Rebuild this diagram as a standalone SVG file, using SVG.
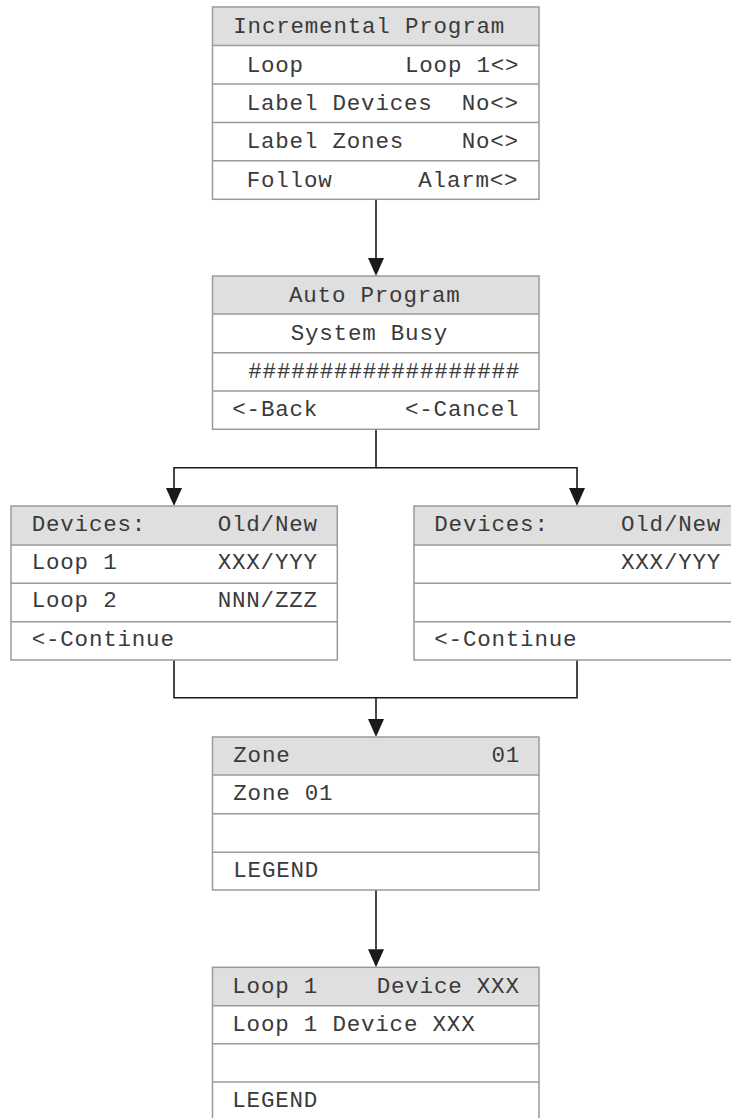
<svg xmlns="http://www.w3.org/2000/svg" width="731" height="1118" viewBox="0 0 731 1118">
<defs>
<style>
.hdr{fill:#dfdfdf;stroke:none}
.row{fill:#ffffff;stroke:none}
.frame{fill:none;stroke:#9a9a9a;stroke-width:1.5}
.div{stroke:#9a9a9a;stroke-width:1.5}
.t{font-family:"Liberation Mono","Courier New",monospace;font-size:22.5px;letter-spacing:0.8px;fill:#3a3a3a}
.c{fill:none;stroke:#1a1a1a;stroke-width:1.6}
.ah{fill:#1a1a1a;stroke:none}
</style>
</defs>
<rect width="731" height="1118" fill="#ffffff"/>

<g id="connectors">
<path class="c" d="M376,199.3 V258" />
<path class="ah" d="M368,258 L384,258 L376,276 Z"/>
<path class="c" d="M376,429.3 V467.7 H174 V488" />
<path class="c" d="M376,467.7 H577 V488" />
<path class="ah" d="M166,488 L182,488 L174,506 Z"/>
<path class="ah" d="M569,488 L585,488 L577,506 Z"/>
<path class="c" d="M174,660 V697.7 H577 V660" />
<path class="c" d="M376,697.7 V719" />
<path class="ah" d="M368,719 L384,719 L376,737 Z"/>
<path class="c" d="M376,890 V949.3" />
<path class="ah" d="M368,949.3 L384,949.3 L376,967.3 Z"/>
</g>

<g id="incremental-program">
<rect class="hdr" x="212.5" y="7" width="326.5" height="38.5"/>
<rect class="row" x="212.5" y="45.5" width="326.5" height="153.8"/>
<line class="div" x1="212.5" y1="45.5" x2="539" y2="45.5"/>
<line class="div" x1="212.5" y1="84" x2="539" y2="84"/>
<line class="div" x1="212.5" y1="122.4" x2="539" y2="122.4"/>
<line class="div" x1="212.5" y1="160.8" x2="539" y2="160.8"/>
<rect class="frame" x="212.5" y="7" width="326.5" height="192.3"/>
<text class="t" x="233.3" y="33.3">Incremental Program</text>
<text class="t" x="246.7" y="71.7">Loop</text>
<text class="t" x="405" y="71.7">Loop 1&lt;&gt;</text>
<text class="t" x="246.7" y="110">Label Devices</text>
<text class="t" x="461.7" y="110">No&lt;&gt;</text>
<text class="t" x="246.7" y="148.3">Label Zones</text>
<text class="t" x="461.7" y="148.3">No&lt;&gt;</text>
<text class="t" x="246.7" y="186.5">Follow</text>
<text class="t" x="418.3" y="186.5">Alarm&lt;&gt;</text>
</g>

<g id="auto-program">
<rect class="hdr" x="212.5" y="276" width="326.5" height="38"/>
<rect class="row" x="212.5" y="314" width="326.5" height="115.3"/>
<line class="div" x1="212.5" y1="314" x2="539" y2="314"/>
<line class="div" x1="212.5" y1="352.7" x2="539" y2="352.7"/>
<line class="div" x1="212.5" y1="391" x2="539" y2="391"/>
<rect class="frame" x="212.5" y="276" width="326.5" height="153.3"/>
<text class="t" x="289" y="301.5">Auto Program</text>
<text class="t" x="290.7" y="339.5">System Busy</text>
<text class="t" x="248.3" y="377.7">###################</text>
<text class="t" x="232.3" y="415.7">&lt;-Back</text>
<text class="t" x="405" y="415.7">&lt;-Cancel</text>
</g>

<g id="devices-left">
<rect class="hdr" x="11" y="506" width="326.3" height="39"/>
<rect class="row" x="11" y="545" width="326.3" height="115"/>
<line class="div" x1="11" y1="545" x2="337.3" y2="545"/>
<line class="div" x1="11" y1="583.3" x2="337.3" y2="583.3"/>
<line class="div" x1="11" y1="621.7" x2="337.3" y2="621.7"/>
<rect class="frame" x="11" y="506" width="326.3" height="154"/>
<text class="t" x="31.7" y="531">Devices:</text>
<text class="t" x="217.7" y="531">Old/New</text>
<text class="t" x="31.7" y="569.3">Loop 1</text>
<text class="t" x="217.7" y="569.3">XXX/YYY</text>
<text class="t" x="31.7" y="607.3">Loop 2</text>
<text class="t" x="217.7" y="607.3">NNN/ZZZ</text>
<text class="t" x="31.7" y="646">&lt;-Continue</text>
</g>

<g id="devices-right">
<rect class="hdr" x="414" y="506" width="326.3" height="39"/>
<rect class="row" x="414" y="545" width="326.3" height="115"/>
<line class="div" x1="414" y1="545" x2="740.3" y2="545"/>
<line class="div" x1="414" y1="583.3" x2="740.3" y2="583.3"/>
<line class="div" x1="414" y1="621.7" x2="740.3" y2="621.7"/>
<rect class="frame" x="414" y="506" width="326.3" height="154"/>
<text class="t" x="434.3" y="531">Devices:</text>
<text class="t" x="621" y="531">Old/New</text>
<text class="t" x="621" y="569.3">XXX/YYY</text>
<text class="t" x="434.3" y="646">&lt;-Continue</text>
</g>

<g id="zone">
<rect class="hdr" x="212.5" y="737" width="326.5" height="38"/>
<rect class="row" x="212.5" y="775" width="326.5" height="115"/>
<line class="div" x1="212.5" y1="775" x2="539" y2="775"/>
<line class="div" x1="212.5" y1="813.7" x2="539" y2="813.7"/>
<line class="div" x1="212.5" y1="852.3" x2="539" y2="852.3"/>
<rect class="frame" x="212.5" y="737" width="326.5" height="153"/>
<text class="t" x="233.3" y="761.7">Zone</text>
<text class="t" x="491.5" y="761.7">01</text>
<text class="t" x="233.3" y="800">Zone 01</text>
<text class="t" x="233.3" y="876.7">LEGEND</text>
</g>

<g id="loop-device">
<rect class="hdr" x="212.5" y="967.3" width="326.5" height="38.4"/>
<rect class="row" x="212.5" y="1005.7" width="326.5" height="115"/>
<line class="div" x1="212.5" y1="1005.7" x2="539" y2="1005.7"/>
<line class="div" x1="212.5" y1="1043.7" x2="539" y2="1043.7"/>
<line class="div" x1="212.5" y1="1082" x2="539" y2="1082"/>
<rect class="frame" x="212.5" y="967.3" width="326.5" height="153.7"/>
<text class="t" x="232.3" y="992.7">Loop 1</text>
<text class="t" x="376.7" y="992.7">Device XXX</text>
<text class="t" x="232.3" y="1031">Loop 1 Device XXX</text>
<text class="t" x="232.3" y="1107.3">LEGEND</text>
</g>
</svg>
